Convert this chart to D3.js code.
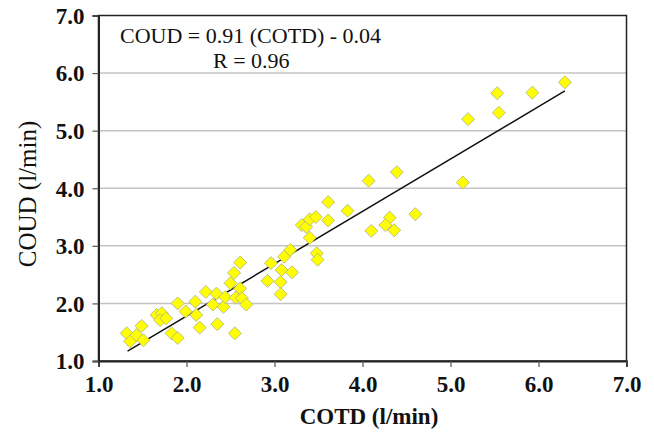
<!DOCTYPE html>
<html>
<head>
<meta charset="utf-8">
<script src="https://cdn.jsdelivr.net/npm/d3@7"></script>
<style>
  body { margin: 0; background: #fff; }
  svg { display: block; }
</style>
</head>
<body>
<div class="chart-holder"></div>
<script>
// COTD vs COUD values
var cotd = [1.32, 1.36, 1.43, 1.49, 1.51, 1.66, 1.72, 1.70, 1.77, 1.83,
            1.90, 1.90, 1.99, 2.10, 2.11, 2.15, 2.22, 2.34, 2.30, 2.42,
            2.44, 2.35, 2.50, 2.54, 2.61, 2.56, 2.61, 2.63, 2.68, 2.55,
            2.92, 2.96, 3.07, 3.07, 3.08, 3.11, 3.20, 3.18, 3.31, 3.36,
            3.40, 3.47, 3.40, 3.48, 3.49, 3.61, 3.61, 3.83, 4.07, 4.39,
            4.60, 4.31, 4.26, 4.36, 4.10, 5.14, 5.20, 5.55, 5.53, 5.93, 6.30]
var coud = [1.48, 1.34, 1.45, 1.61, 1.36, 1.80, 1.83, 1.71, 1.74, 1.48,
            1.40, 2.00, 1.86, 2.03, 1.80, 1.58, 2.20, 2.17, 1.98, 1.94,
            2.11, 1.64, 2.35, 2.53, 2.71, 2.10, 2.26, 2.09, 1.98, 1.48,
            2.39, 2.70, 2.37, 2.16, 2.58, 2.81, 2.54, 2.93, 3.36, 3.33,
            3.46, 3.50, 3.14, 2.87, 2.76, 3.44, 3.76, 3.61, 4.13, 4.28,
            3.55, 3.49, 3.36, 3.27, 3.26, 4.10, 5.20, 5.31, 5.65, 5.66, 5.84]

// regression line ends (COUD = 0.91 COTD - 0.04)
var fitX = [1.33, 6.30]
var fitY = [1.17, 5.69]

var xTicks = [1, 2, 3, 4, 5, 6, 7]
var yTicks = [1, 2, 3, 4, 5, 6, 7]
var gridTicks = [2, 3, 4, 5, 6]

var points = cotd.map(function(d, i){ return {x: d, y: coud[i]} })

var W = 654, H = 433
var plot = {left: 98.5, top: 15.5, right: 626.5, bottom: 361}

var xScale = d3.scaleLinear().domain([1, 7]).range([plot.left, plot.right])
var yScale = d3.scaleLinear().domain([1, 7]).range([plot.bottom, plot.top])

var svg = d3.select('.chart-holder')
            .append('svg')
            .attr('width', W)
            .attr('height', H)
            .style('font-family', '"Liberation Serif", "Times New Roman", serif')

// grid lines
svg.append('g')
   .selectAll('line')
   .data(gridTicks)
   .enter()
   .append('line')
   .attr('x1', plot.left)
   .attr('x2', plot.right)
   .attr('y1', function(d){ return yScale(d) })
   .attr('y2', function(d){ return yScale(d) })
   .style('stroke', '#c4c4c4')
   .style('stroke-width', 1.5)

// frame on top and right
svg.append('rect')
   .attr('x', plot.left)
   .attr('y', plot.top)
   .attr('width', plot.right - plot.left)
   .attr('height', plot.bottom - plot.top)
   .style('fill', 'none')
   .style('stroke', '#222')
   .style('stroke-width', 1.5)

// axes
var xAxis = d3.axisBottom(xScale)
              .tickValues(xTicks)
              .tickSize(6)
              .tickFormat(d3.format('.1f'))
var yAxis = d3.axisLeft(yScale)
              .tickValues(yTicks)
              .tickSize(6)
              .tickFormat(d3.format('.1f'))

var gx = svg.append('g')
   .attr('transform', 'translate(0,' + plot.bottom + ')')
   .call(xAxis)
var gy = svg.append('g')
   .attr('transform', 'translate(' + plot.left + ',0)')
   .call(yAxis)

;[gx, gy].forEach(function(g){
   g.select('.domain').style('stroke', '#222').style('stroke-width', 2)
   g.selectAll('.tick line').style('stroke', '#555').style('stroke-width', 1.2)
   g.selectAll('.tick text')
    .style('font-family', '"Liberation Serif", serif')
    .style('font-size', '23px')
    .style('font-weight', 'bold')
    .style('fill', '#111')
})
gx.selectAll('.tick text').attr('dy', null).attr('y', 31)
gy.selectAll('.tick text').attr('x', -14).attr('dy', '0.34em')

// fit line
svg.append('line')
   .attr('x1', xScale(fitX[0]))
   .attr('y1', yScale(fitY[0]))
   .attr('x2', xScale(fitX[1]))
   .attr('y2', yScale(fitY[1]))
   .style('stroke', '#111')
   .style('stroke-width', 1.5)

// diamonds
var diamond = d3.symbol().type(d3.symbolSquare).size(84)

svg.append('g')
   .selectAll('path')
   .data(points)
   .enter()
   .append('path')
   .attr('d', diamond)
   .attr('transform', function(d){
      return 'translate(' + xScale(d.x) + ',' + yScale(d.y) + ') rotate(45)'
   })
   .style('fill', '#ffff00')
   .style('stroke', '#b4b482')
   .style('stroke-width', 0.8)

// equation text
svg.append('text')
   .attr('x', 120)
   .attr('y', 43)
   .style('font-size', '22px')
   .style('fill', '#111')
   .text('COUD = 0.91 (COTD) - 0.04')

svg.append('text')
   .attr('x', 213)
   .attr('y', 68)
   .style('font-size', '22px')
   .style('fill', '#111')
   .text('R = 0.96')

// axis titles
svg.append('text')
   .attr('x', 369)
   .attr('y', 424)
   .attr('text-anchor', 'middle')
   .style('font-size', '23px')
   .style('font-weight', 'bold')
   .style('fill', '#111')
   .text('COTD (l/min)')

svg.append('text')
   .attr('transform', 'translate(36,194) rotate(-90)')
   .attr('text-anchor', 'middle')
   .style('font-size', '25px')
   .style('fill', '#111')
   .text('COUD (l/min)')
</script>
</body>
</html>
